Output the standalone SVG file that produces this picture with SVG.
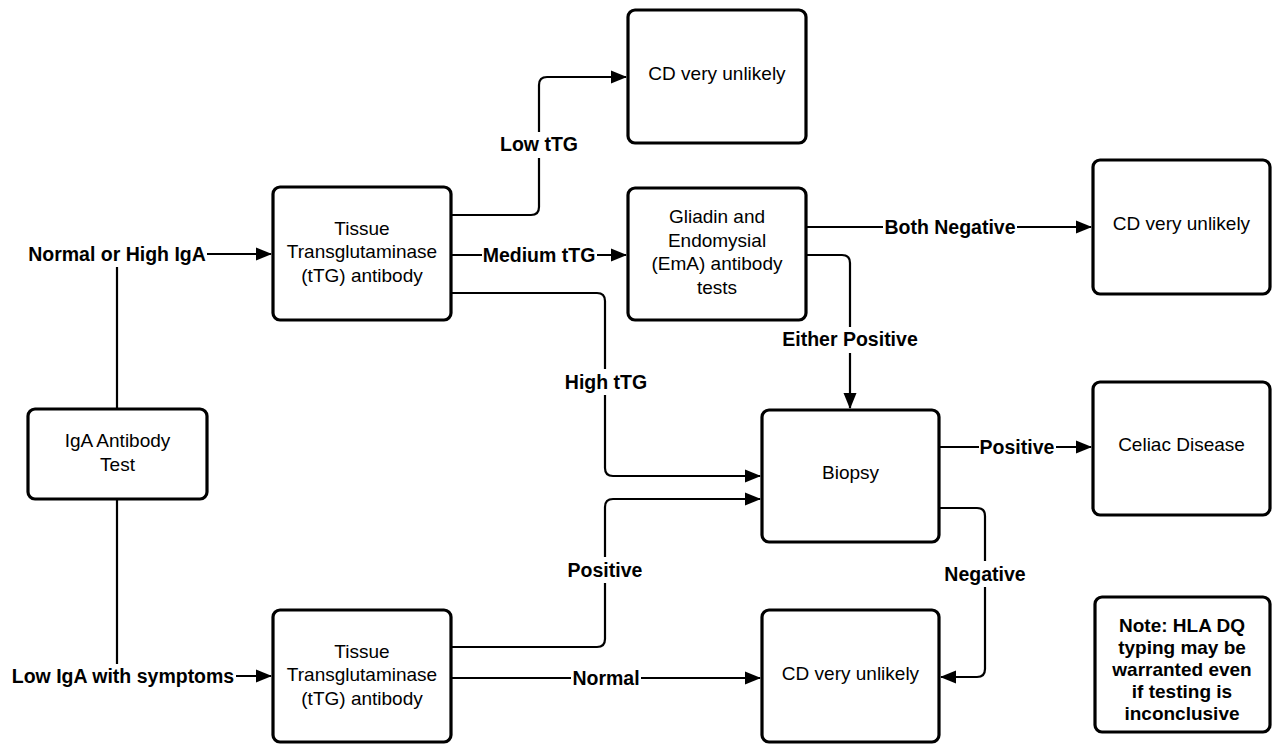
<svg xmlns="http://www.w3.org/2000/svg" width="1273" height="744" viewBox="0 0 1273 744">
<defs>
<marker id="arr" markerUnits="userSpaceOnUse" markerWidth="16" markerHeight="14" refX="15" refY="7" orient="auto">
<path d="M0,0.5 L16,7 L0,13.5 Z" fill="#000"/>
</marker>
<style>
.box{fill:#fff;stroke:#000;stroke-width:3.2}
.t{font-family:"Liberation Sans",Arial,sans-serif;font-size:19px;fill:#000;text-anchor:middle}
.b{font-weight:bold}
.l{font-size:19.5px}
.edge{fill:none;stroke:#000;stroke-width:2.2}
.lbg{fill:#fff}
</style>
</defs>
<rect width="1273" height="744" fill="#fff"/>
<g id="connectors">
<path class="edge" d="M117,409 V254 H271" marker-end="url(#arr)"/>
<path class="edge" d="M117,499 V676 H271" marker-end="url(#arr)"/>
<path class="edge" d="M451,215 H531 Q539,215 539,207 V85 Q539,77 547,77 H626" marker-end="url(#arr)"/>
<path class="edge" d="M451,255 H626" marker-end="url(#arr)"/>
<path class="edge" d="M451,293 H597 Q605,293 605,301 V468 Q605,476 613,476 H760" marker-end="url(#arr)"/>
<path class="edge" d="M806,227 H1091" marker-end="url(#arr)"/>
<path class="edge" d="M806,255 H842 Q850,255 850,263 V408" marker-end="url(#arr)"/>
<path class="edge" d="M939,447 H1091" marker-end="url(#arr)"/>
<path class="edge" d="M939,508 H977 Q985,508 985,516 V669 Q985,677 977,677 H941" marker-end="url(#arr)"/>
<path class="edge" d="M451,647 H597 Q605,647 605,639 V507 Q605,499 613,499 H760" marker-end="url(#arr)"/>
<path class="edge" d="M451,678 H760" marker-end="url(#arr)"/>
<g id="edge-labels">
<rect class="lbg" x="27" y="242" width="180" height="25"/>
<text class="t b l" x="117" y="261">Normal or High IgA</text>
<rect class="lbg" x="10" y="664" width="226" height="25"/>
<text class="t b l" x="123" y="683">Low IgA with symptoms</text>
<rect class="lbg" x="499" y="132" width="80" height="26"/>
<text class="t b l" x="539" y="151">Low tTG</text>
<rect class="lbg" x="482" y="243" width="115" height="25"/>
<text class="t b l" x="539" y="262">Medium tTG</text>
<rect class="lbg" x="564" y="369" width="84" height="26"/>
<text class="t b l" x="606" y="389">High tTG</text>
<rect class="lbg" x="883" y="215" width="134" height="25"/>
<text class="t b l" x="950" y="234">Both Negative</text>
<rect class="lbg" x="781" y="327" width="138" height="26"/>
<text class="t b l" x="850" y="346">Either Positive</text>
<rect class="lbg" x="979" y="435" width="77" height="25"/>
<text class="t b l" x="1017" y="454">Positive</text>
<rect class="lbg" x="943" y="561" width="84" height="26"/>
<text class="t b l" x="985" y="581">Negative</text>
<rect class="lbg" x="567" y="557" width="77" height="26"/>
<text class="t b l" x="605" y="577">Positive</text>
<rect class="lbg" x="571" y="666" width="70" height="25"/>
<text class="t b l" x="606" y="685">Normal</text>
</g>
</g>
<g id="cd-top">
<rect class="box" x="628" y="10" width="178" height="133" rx="7"/>
<text class="t" x="717" y="80">CD very unlikely</text>
</g>
<g id="gliadin">
<rect class="box" x="628" y="188" width="178" height="132" rx="7"/>
<text class="t" x="717" y="223">Gliadin and</text>
<text class="t" x="717" y="247">Endomysial</text>
<text class="t" x="717" y="270">(EmA) antibody</text>
<text class="t" x="717" y="294">tests</text>
</g>
<g id="ttg-top">
<rect class="box" x="273" y="187" width="178" height="133" rx="7"/>
<text class="t" x="362" y="235">Tissue</text>
<text class="t" x="362" y="258">Transglutaminase</text>
<text class="t" x="362" y="282">(tTG) antibody</text>
</g>
<g id="cd-right">
<rect class="box" x="1093" y="160" width="177" height="134" rx="7"/>
<text class="t" x="1181.5" y="230">CD very unlikely</text>
</g>
<g id="iga">
<rect class="box" x="28" y="409" width="179" height="90" rx="7"/>
<text class="t" x="117.5" y="447">IgA Antibody</text>
<text class="t" x="117.5" y="471">Test</text>
</g>
<g id="biopsy">
<rect class="box" x="762" y="410" width="177" height="132" rx="7"/>
<text class="t" x="850.5" y="479">Biopsy</text>
</g>
<g id="celiac">
<rect class="box" x="1093" y="382" width="177" height="133" rx="7"/>
<text class="t" x="1181.5" y="451">Celiac Disease</text>
</g>
<g id="cd-bottom">
<rect class="box" x="762" y="610" width="177" height="132" rx="7"/>
<text class="t" x="850.5" y="680">CD very unlikely</text>
</g>
<g id="ttg-bottom">
<rect class="box" x="273" y="610" width="178" height="132" rx="7"/>
<text class="t" x="362" y="658">Tissue</text>
<text class="t" x="362" y="681">Transglutaminase</text>
<text class="t" x="362" y="705">(tTG) antibody</text>
</g>
<g id="note">
<rect class="box" x="1095" y="597" width="175" height="135" rx="7"/>
<text class="t b" x="1182" y="632">Note: HLA DQ</text>
<text class="t b" x="1182" y="654">typing may be</text>
<text class="t b" x="1182" y="676">warranted even</text>
<text class="t b" x="1182" y="698">if testing is</text>
<text class="t b" x="1182" y="720">inconclusive</text>
</g>
</svg>
